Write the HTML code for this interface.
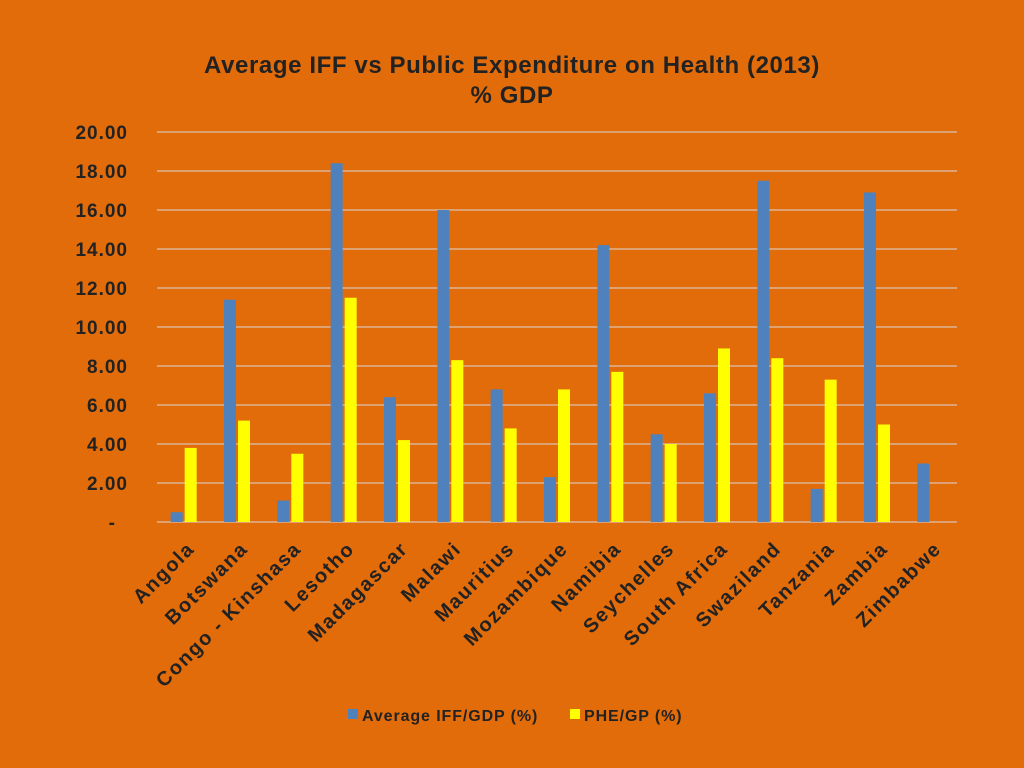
<!DOCTYPE html>
<html><head><meta charset="utf-8"><style>
html,body{margin:0;padding:0;background:#E36C0A;}
svg{display:block;font-family:"Liberation Sans",sans-serif;font-weight:bold;}
</style></head><body>
<svg id="chart" width="1024" height="768" xmlns="http://www.w3.org/2000/svg">
<rect width="1024" height="768" fill="#E36C0A"/>
<text x="512" y="73" text-anchor="middle" font-size="24" letter-spacing="0.6" fill="#222">Average IFF vs Public Expenditure on Health (2013)</text>
<text x="512" y="103" text-anchor="middle" font-size="24" letter-spacing="0.6" fill="#222">% GDP</text>
<g id="grid"></g><g id="bars"></g><g id="labels"></g>
<g>
<rect x="348" y="709" width="10" height="10" fill="#4F81BD"/>
<text x="362" y="721" font-size="16" letter-spacing="0.9" fill="#222">Average IFF/GDP (%)</text>
<rect x="570" y="709" width="10" height="10" fill="#FFFF00"/>
<text x="584" y="721" font-size="16" letter-spacing="0.9" fill="#222">PHE/GP (%)</text>
</g>
</svg>
<script>
const categories=["Angola","Botswana","Congo - Kinshasa","Lesotho","Madagascar","Malawi","Mauritius","Mozambique","Namibia","Seychelles","South Africa","Swaziland","Tanzania","Zambia","Zimbabwe"];
const iffValues=[0.5,11.4,1.1,18.4,6.4,16.0,6.8,2.3,14.2,4.5,6.6,17.5,1.7,16.9,3.0];
const pheValues=[3.8,5.2,3.5,11.5,4.2,8.3,4.8,6.8,7.7,4.0,8.9,8.4,7.3,5.0,0];
const tickValues=[0,2,4,6,8,10,12,14,16,18,20];
const tickLabels=["-","2.00","4.00","6.00","8.00","10.00","12.00","14.00","16.00","18.00","20.00"];
const NS="http://www.w3.org/2000/svg";
const x0=157,x1=957,y0=522,y1=132,yMax=20;
const yS=v=>y0-(y0-y1)*v/yMax;
const bw=(x1-x0)/categories.length;
const xC=i=>x0+bw*(i+0.5);
function mk(t,a,p){const e=document.createElementNS(NS,t);for(const k in a)e.setAttribute(k,a[k]);p.appendChild(e);return e;}
const grid=document.getElementById('grid'),bars=document.getElementById('bars'),labels=document.getElementById('labels');
tickValues.forEach((v,i)=>{
 const l=mk('line',{x1:x0,x2:x1,y1:yS(v),y2:yS(v),stroke:'#d9d9d9','stroke-width':1},grid);
 
 
 const t=mk('text',{x:i==0?116:128,y:yS(v)+7,'text-anchor':'end','font-size':19,'letter-spacing':1,fill:'#222'},grid);
 t.textContent=tickLabels[i];
 
 
});
categories.forEach((c,i)=>{
 const w=12;
 if(iffValues[i]>0){const r=mk('rect',{x:xC(i)-w-1,y:yS(iffValues[i]),width:w,height:y0-yS(iffValues[i]),fill:'#4F81BD'},bars);
 
 }
 if(pheValues[i]>0){const r=mk('rect',{x:xC(i)+1,y:yS(pheValues[i]),width:w,height:y0-yS(pheValues[i]),fill:'#FFFF00'},bars);
 
 }
 const tx=xC(i)+12,ty=550;
 const t=mk('text',{x:tx,y:ty,'text-anchor':'end','font-size':20,'letter-spacing':1.6,fill:'#222',transform:`rotate(-45 ${tx} ${ty})`},labels);
 t.textContent=c;
 
 
});
</script>
</body></html>
